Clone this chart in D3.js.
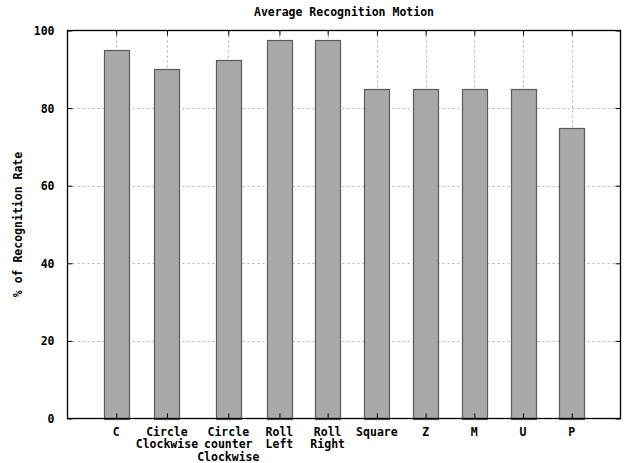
<!DOCTYPE html>
<html>
<head>
<meta charset="utf-8">
<script src="https://cdn.jsdelivr.net/npm/d3@7/dist/d3.min.js"></script>
<style>
  html, body { margin: 0; padding: 0; background: #fff; }
  svg text { font-family: "DejaVu Sans Mono", "Liberation Mono", monospace; font-weight: bold; font-size: 11.5px; fill: #000; }
</style>
</head>
<body>
<svg id="chart" width="625" height="463"></svg>
<script>
// ---- data ----
const categories = ["C", "Circle\nClockwise", "Circle\ncounter\nClockwise", "Roll\nLeft", "Roll\nRight", "Square", "Z", "M", "U", "P"];
const xValues = [1, 2.04, 3.3, 4.35, 5.34, 6.35, 7.35, 8.35, 9.35, 10.35];
const recognitionRate = [95, 90, 92.5, 97.5, 97.5, 85, 85, 85, 85, 75];
const yTicks = [0, 20, 40, 60, 80, 100];
const chartTitle = "Average Recognition Motion";
const yTitle = "% of Recognition Rate";

// ---- layout ----
const W = 625, H = 463;
const plot = { left: 67.5, right: 620.5, top: 30.5, bottom: 418.5 };
const svg = d3.select("#chart");

const x = d3.scaleLinear().domain([0, 11.35]).range([plot.left, plot.right]);
const y = d3.scaleLinear().domain([0, 100]).range([plot.bottom, plot.top]);
const barW = x(0.51) - x(0);

// grid
const grid = svg.append("g");
grid.selectAll("line.h").data(yTicks.filter(d => d > 0 && d < 100)).join("line")
  .attr("x1", plot.left).attr("x2", plot.right)
  .attr("y1", d => Math.round(y(d)) + 0.5).attr("y2", d => Math.round(y(d)) + 0.5)
  .attr("stroke", "#b0b0b0").attr("stroke-width", 1).attr("stroke-dasharray", "2,3");
grid.selectAll("line.v").data(xValues).join("line")
  .attr("x1", d => Math.round(x(d)) + 0.5).attr("x2", d => Math.round(x(d)) + 0.5)
  .attr("y1", plot.top).attr("y2", plot.bottom)
  .attr("stroke", "#b0b0b0").attr("stroke-width", 1).attr("stroke-dasharray", "2,3");

// bars
svg.append("g").selectAll("rect").data(recognitionRate).join("rect")
  .attr("x", (d, i) => Math.round(x(xValues[i]) - barW / 2) + 0.5)
  .attr("y", d => Math.round(y(d)) + 0.5)
  .attr("width", Math.round(barW))
  .attr("height", d => Math.round(y(0)) - Math.round(y(d)))
  .attr("fill", "#a9a9a9").attr("stroke", "#5a5a5a").attr("stroke-width", 1.2);

// axes (ticks inward, mirrored)
const tickLen = 5;
const axL = svg.append("g").attr("transform", `translate(${plot.left},0)`)
  .call(d3.axisLeft(y).tickValues(yTicks).tickSize(-tickLen).tickPadding(tickLen + 8).tickFormat(d3.format("d")));
const axR = svg.append("g").attr("transform", `translate(${plot.right},0)`)
  .call(d3.axisRight(y).tickValues(yTicks).tickSize(-tickLen).tickFormat(""));
const axT = svg.append("g").attr("transform", `translate(0,${plot.top})`)
  .call(d3.axisTop(x).tickValues(xValues).tickSize(-tickLen).tickFormat(""));
const axB = svg.append("g").attr("transform", `translate(0,${plot.bottom})`)
  .call(d3.axisBottom(x).tickValues(xValues).tickSize(-tickLen).tickFormat(""));
[axL, axR, axT, axB].forEach(a => {
  a.select(".domain").remove();
  a.selectAll(".tick line").attr("stroke", "#000").attr("stroke-width", 1);
});
axL.selectAll(".tick text").attr("fill", "#000").attr("dy", "0.35em")
  .style("font-family", '"DejaVu Sans Mono", monospace').style("font-size", "11.5px").style("font-weight", "bold");

// border
svg.append("rect").attr("x", plot.left).attr("y", plot.top)
  .attr("width", plot.right - plot.left).attr("height", plot.bottom - plot.top)
  .attr("fill", "none").attr("stroke", "#000").attr("stroke-width", 1.3);

// x labels (multi-line)
const xl = svg.append("g").selectAll("text").data(categories).join("text")
  .attr("text-anchor", "middle")
  .attr("transform", (d, i) => `translate(${x(xValues[i])},435.5)`);
xl.each(function(d) {
  const t = d3.select(this);
  d.split("\n").forEach((line, k) => {
    t.append("tspan").attr("x", 0).attr("y", k * 12.5).text(line);
  });
});

// title
svg.append("text").attr("x", (plot.left + plot.right) / 2).attr("y", 16)
  .attr("text-anchor", "middle").text(chartTitle);

// y title
svg.append("text").attr("transform", `translate(22,${(plot.top + plot.bottom) / 2}) rotate(-90)`)
  .attr("text-anchor", "middle").text(yTitle);
</script>
</body>
</html>
